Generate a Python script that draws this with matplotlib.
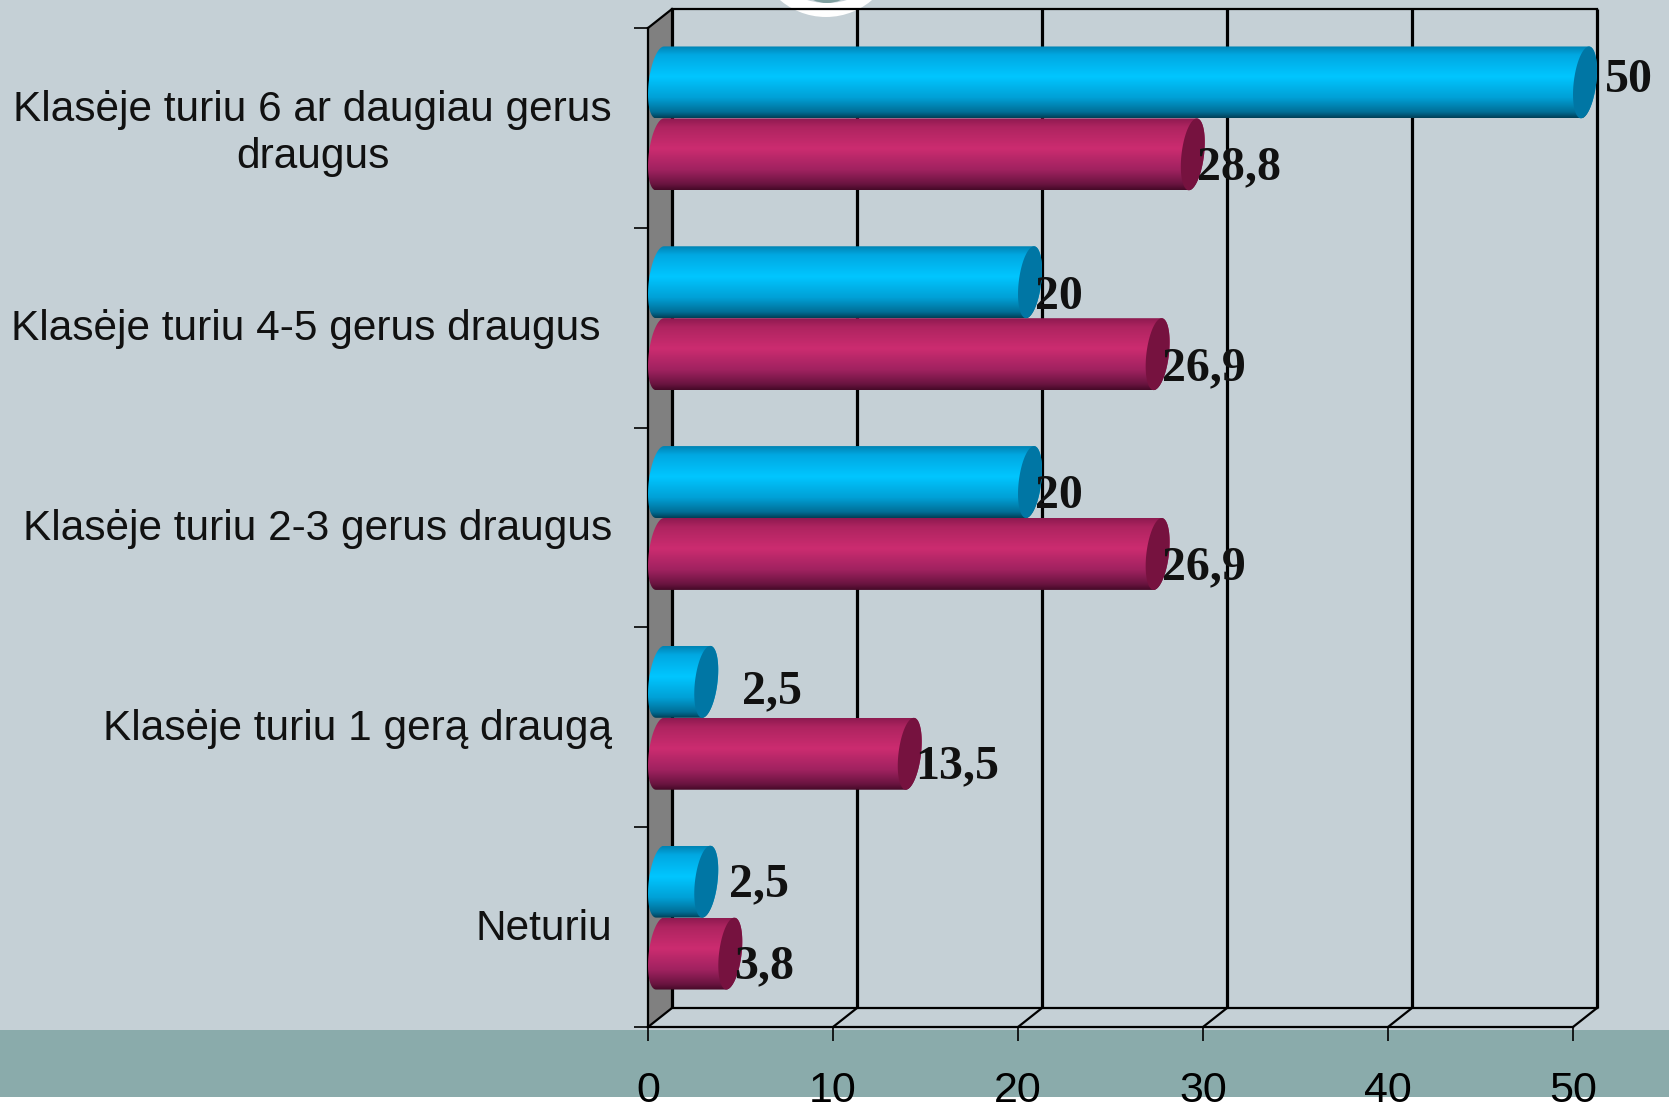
import numpy as np
import matplotlib
matplotlib.use("Agg")
import matplotlib.pyplot as plt
from matplotlib.patches import Polygon, Ellipse, Rectangle, PathPatch
from matplotlib.path import Path
from matplotlib.colors import LinearSegmentedColormap
from matplotlib.transforms import ScaledTranslation

# data, from the bottom category to the top one
categories = ["Neturiu", "Klasėje turiu 1 gerą draugą", "Klasėje turiu 2-3 gerus draugus",
              "Klasėje turiu 4-5 gerus draugus ", "Klasėje turiu 6 ar daugiau gerus\ndraugus"]
blue_values = [2.5, 2.5, 20, 20, 50]
red_values = [3.8, 13.5, 26.9, 26.9, 28.8]
blue_labels = ["2,5", "2,5", "20", "20", "50"]
red_labels = ["3,8", "13,5", "26,9", "26,9", "28,8"]
x_ticks = [0, 10, 20, 30, 40, 50]

# hand placed label offsets from the bar end, in pixels (right, up)
blue_offsets = [(35, -3), (48, -9), (17, -14), (17, -15), (32, 2)]
red_offsets = [(16, -13), (17, -13), (16, -13), (16, -14), (16, -13)]

W, H = 1669, 1106
BG = "#c5d0d6"
BAND = "#8aabab"

fig = plt.figure(figsize=(W / 100, H / 100), dpi=100, facecolor="white")

# background in pixel coordinates
bg = fig.add_axes([0, 0, 1, 1])
bg.set_xlim(0, W)
bg.set_ylim(H, 0)
bg.axis("off")
bg.add_patch(Rectangle((0, 0), W, 1030, fc=BG, ec="none"))
bg.add_patch(Rectangle((0, 1030), W, 67, fc=BAND, ec="none"))
bg.add_patch(Ellipse((826, -54), 142, 142, fc="white", ec="none"))
bg.add_patch(Ellipse((827, -65), 136, 136, fc=BG, ec="none"))
bg.add_patch(Ellipse((827, -32), 70, 70, fc="#7f9f9f", ec="none"))

# front plane of the chart
left, right, top, bottom = 648, 1573, 28, 1027
ax = fig.add_axes([left / W, 1 - bottom / H, (right - left) / W, (bottom - top) / H])
ax.patch.set_alpha(0)
ax.set_xlim(0, 50)
ax.set_ylim(-0.5, 4.5)
px_x = 50 / (right - left)
px_y = 5 / (bottom - top)
depth_x = 24 * px_x
depth_y = 19 * px_y

# side wall, floor and back grid
ax.add_patch(Polygon([(0, -0.5), (depth_x, -0.5 + depth_y), (depth_x, 4.5 + depth_y), (0, 4.5)],
                     closed=True, fc="#808080", ec="none", clip_on=False, zorder=1))
for v in x_ticks:
    ax.plot([v + depth_x, v + depth_x], [-0.5 + depth_y, 4.5 + depth_y], color="black", lw=2.3,
            clip_on=False, zorder=1.5, solid_capstyle="butt")
    ax.plot([v, v + depth_x], [-0.5, -0.5 + depth_y], color="black", lw=1.6, clip_on=False, zorder=1.5)
ax.plot([depth_x, 50 + depth_x], [-0.5 + depth_y] * 2, color="black", lw=1.6, clip_on=False, zorder=1.5)
ax.plot([depth_x, 50 + depth_x], [4.5 + depth_y] * 2, color="black", lw=1.6, clip_on=False, zorder=1.5)
ax.plot([0, depth_x], [4.5, 4.5 + depth_y], color="black", lw=1.6, clip_on=False, zorder=1.5)

blue_map = LinearSegmentedColormap.from_list(
    "b", [(0, "#0084b4"), (0.12, "#00a8e2"), (0.42, "#00c6ff"), (0.72, "#00a0d6"), (0.92, "#006e96"), (1, "#004058")])
red_map = LinearSegmentedColormap.from_list(
    "r", [(0, "#8e1a50"), (0.12, "#ae2460"), (0.42, "#cc2c70"), (0.72, "#a02260"), (0.92, "#6a1440"), (1, "#460a28")])
grad = np.linspace(0, 1, 128).reshape(-1, 1)

bar_h = 0.36
cap_a = 11.3 * px_x
cap_skew = 4 * px_x


def ellipse_pts(cx, cy, t):
    return np.column_stack([cx + cap_a * np.cos(t) + cap_skew * np.sin(t), cy + bar_h / 2 * np.sin(t)])


def cylinder(value, y, cmap, cap_color, z):
    # cylinder sits in the middle of the chart depth
    cy = y + depth_y / 2
    x0 = depth_x / 2
    x1 = value + depth_x / 2
    left_arc = ellipse_pts(x0, cy, np.linspace(np.pi / 2, 3 * np.pi / 2, 40))
    right_arc = ellipse_pts(x1, cy, np.linspace(-np.pi / 2, np.pi / 2, 40))
    pts = np.vstack([left_arc, right_arc, left_arc[:1]])
    clip = PathPatch(Path(pts), fc="none", ec="none", transform=ax.transData, clip_on=False)
    ax.add_patch(clip)
    im = ax.imshow(grad, cmap=cmap, aspect="auto", interpolation="bilinear", zorder=z,
                   extent=(x0 - 2, x1 + 2, cy - bar_h / 2, cy + bar_h / 2), origin="upper")
    im.set_clip_path(clip)
    im.set_clip_box(fig.bbox)
    ax.add_patch(Polygon(ellipse_pts(x1, cy, np.linspace(0, 2 * np.pi, 80)), closed=True, fc=cap_color,
                         ec="none", zorder=z + 0.1, clip_on=False))


for i in range(5):
    z = 2 + (4 - i) * 0.5
    cylinder(red_values[i], i - bar_h / 2, red_map, "#76123f", z)
    cylinder(blue_values[i], i + bar_h / 2, blue_map, "#0076a4", z + 0.2)

ax.set_xlim(0, 50)
ax.set_ylim(-0.5, 4.5)

# value labels
for i in range(5):
    for val, txt, off, yy in [(blue_values[i], blue_labels[i], blue_offsets[i], i + bar_h / 2),
                              (red_values[i], red_labels[i], red_offsets[i], i - bar_h / 2)]:
        ax.annotate(txt, xy=(val, yy + depth_y / 2), xytext=(off[0] * 0.72, off[1] * 0.72),
                    textcoords="offset points", ha="left", va="center", fontsize=34.5,
                    family="Liberation Serif", fontweight="bold", color="#111111", zorder=10,
                    annotation_clip=False)

# axes
for s in ["top", "right"]:
    ax.spines[s].set_visible(False)
for s in ["left", "bottom"]:
    ax.spines[s].set_linewidth(1.6)
    ax.spines[s].set_zorder(1.6)

ax.set_xticks(x_ticks)
ax.set_xticklabels([str(v) for v in x_ticks], fontsize=31, family="Liberation Sans")
ax.tick_params(axis="x", length=10, width=1.2, pad=21.5)
ax.set_yticks([-0.5, 0.5, 1.5, 2.5, 3.5, 4.5])
ax.set_yticklabels([])
ax.tick_params(axis="y", which="major", length=10, width=1.2)
ax.set_yticks(range(5), categories, minor=True)
ax.tick_params(axis="y", which="minor", length=0, pad=26)
nudge = ScaledTranslation(0, 2 / 72, fig.dpi_scale_trans)
for lab in ax.get_yticklabels(minor=True):
    lab.set_fontsize(30.5)
    lab.set_family("Liberation Sans")
    lab.set_multialignment("center")
    lab.set_color("#111111")
    lab.set_linespacing(1.24)
    lab.set_transform(lab.get_transform() + nudge)

fig.savefig("out.png", dpi=100, facecolor="white")
